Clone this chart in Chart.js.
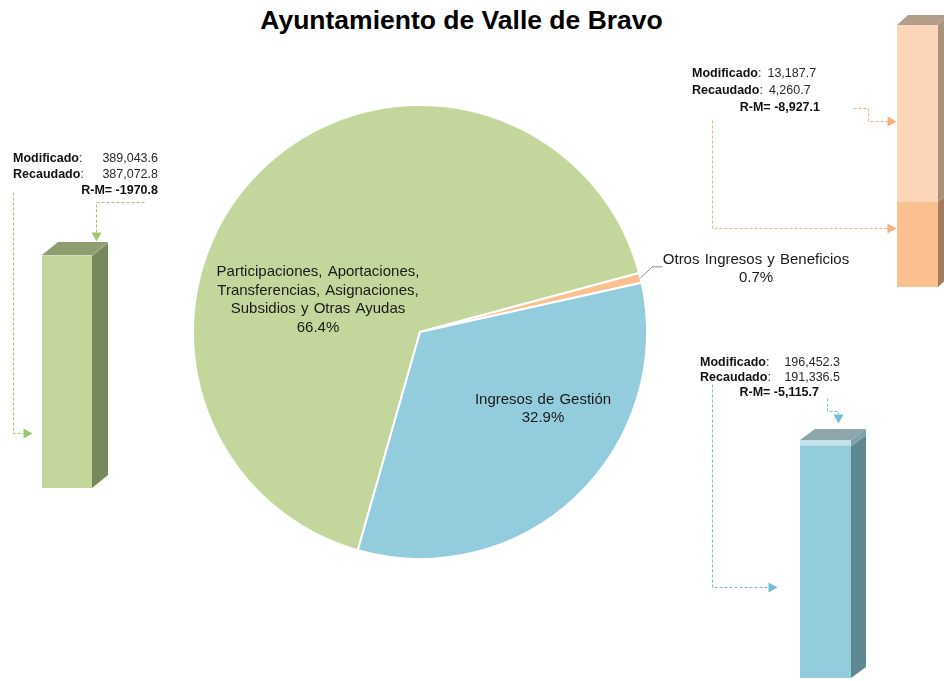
<!DOCTYPE html>
<html lang="es">
<head>
<meta charset="utf-8">
<title>Ayuntamiento de Valle de Bravo</title>
<script src="https://cdn.jsdelivr.net/npm/chart.js@4.4.1/dist/chart.umd.min.js"></script>
<style>
    html, body { margin: 0; padding: 0; background: #fff; }
    body { width: 944px; height: 681px; position: relative; overflow: hidden; font-family: "Liberation Sans", Arial, sans-serif; }
    canvas { position: absolute; }
    #title { position: absolute; left: 0; top: 5px; width: 923px; text-align: center; font-size: 26.5px; line-height: 30px; font-weight: bold; color: #000; }
    .note { position: absolute; font-size: 12.5px; line-height: 16px; color: #2a2a2a; white-space: nowrap; }
    .note b { color: #111; }
    .note .row { display: flex; justify-content: space-between; }
    .note.left .row { justify-content: flex-start; gap: 6px; }
    .note .rm { text-align: right; }
</style>
</head>
<body>
<div id="title">Ayuntamiento de Valle de Bravo</div>
<canvas id="pieChart" width="944" height="681" style="left:0;top:0"></canvas>
<canvas id="barVerde" width="68" height="254" style="left:42px;top:236px"></canvas>
<canvas id="barNaranja" width="47" height="282" style="left:897px;top:10px"></canvas>
<canvas id="barAzul" width="69" height="257" style="left:800px;top:424px"></canvas>

<div class="note" id="noteVerde" style="left:13px;top:150px;width:145px"></div>
<div class="note left" id="noteNaranja" style="left:692px;top:65px;width:131px;line-height:17px"></div>
<div class="note" id="noteAzul" style="left:700px;top:355px;width:140px;line-height:15px"></div>

<script>
// ===== Data =====
const categories = [
    'Participaciones, Aportaciones, Transferencias, Asignaciones, Subsidios y Otras Ayudas',
    'Otros Ingresos y Beneficios',
    'Ingresos de Gestión'
];
const labelLines = [
    ['Participaciones, Aportaciones,', 'Transferencias, Asignaciones,', 'Subsidios y Otras Ayudas'],
    ['Otros Ingresos y Beneficios'],
    ['Ingresos de Gestión']
];
const shares = [66.4, 0.7, 32.9];               // % del recaudado
const modificado = [389043.6, 13187.7, 196452.3];
const recaudado = [387072.8, 4260.7, 191336.5];
const diferencia = ['-1970.8', '-8,927.1', '-5,115.7']; // R-M as printed

// ===== Colors =====
const colors = {
    pie: ['#C3D69B', '#FAC090', '#93CDDD'],
    verde: { front: ['#C3D69B', '#D5E3B5'], side: ['#77895A', '#86976A'], top: '#8E9E70' },
    naranja: { front: ['#FAC090', '#FCD6B6'], side: ['#A27C5E', '#A8917F'], top: '#B39D8B' },
    azul: { front: ['#93CDDD', '#C4E4EC'], side: ['#5E8891', '#7EA3AB'], top: '#8CA6AC' },
    text: '#1a1a1a'
};

const fmt = v => v.toLocaleString('en-US', { minimumFractionDigits: 1, maximumFractionDigits: 1 });

// ===== Label positions (relative to pie center) =====
const labelOffsets = [[-102, -32], [336, -63], [123, 77]];

// ===== Annotations (dashed connectors) =====
const connectors = [
    { color: '#9DC870', pts: [[13, 192], [13, 433], [32, 433]] },
    { color: '#9DC870', pts: [[144, 202], [96, 202], [96, 241]] },
    { color: '#F7B07A', pts: [[853, 108], [868, 108], [868, 121], [896, 121]] },
    { color: '#F7B07A', pts: [[712, 120], [712, 228], [896, 228]] },
    { color: '#6FC0D4', pts: [[712, 384], [712, 587], [777, 587]] },
    { color: '#6FC0D4', pts: [[827, 398], [827, 411], [838, 411], [838, 423]] }
];

// ===== Pie labels + connectors plugin =====
const pieDecor = {
    id: 'pieDecor',
    afterDatasetsDraw(chart) {
        const { ctx } = chart;
        const arc0 = chart.getDatasetMeta(0).data[0];
        const cx = arc0.x, cy = arc0.y;
        ctx.save();
        ctx.font = '15px "Liberation Sans", Arial, sans-serif';
        ctx.fillStyle = colors.text;
        ctx.textAlign = 'center';
        ctx.textBaseline = 'middle';
        if ('wordSpacing' in ctx) ctx.wordSpacing = '1px';
        labelLines.forEach((lines, i) => {
            const all = lines.concat([shares[i].toFixed(1) + '%']);
            const lh = 18.5;
            const x = cx + labelOffsets[i][0];
            const y0 = cy + labelOffsets[i][1] - (all.length - 1) * lh / 2;
            all.forEach((t, k) => ctx.fillText(t, x, y0 + k * lh));
        });

        // leader line for the small slice
        const small = chart.getDatasetMeta(0).data[1];
        const mid = (small.startAngle + small.endAngle) / 2;
        const ex = cx + Math.cos(mid) * small.outerRadius;
        const ey = cy + Math.sin(mid) * small.outerRadius;
        ctx.strokeStyle = '#8C8C8C';
        ctx.lineWidth = 1;
        ctx.beginPath();
        ctx.moveTo(ex, ey);
        ctx.lineTo(ex + 12, ey - 11);
        ctx.lineTo(ex + 22, ey - 11);
        ctx.stroke();
        ctx.restore();
    },
    afterDraw(chart) {
        const { ctx } = chart;
        ctx.save();
        connectors.forEach(c => {
            const pts = c.pts;
            const n = pts.length;
            const [tx, ty] = pts[n - 1];
            const [px, py] = pts[n - 2];
            const len = Math.hypot(tx - px, ty - py);
            const ux = (tx - px) / len, uy = (ty - py) / len;
            const head = 9, half = 5;
            ctx.strokeStyle = c.color;
            ctx.lineWidth = 1;
            ctx.setLineDash([3, 2]);
            ctx.beginPath();
            ctx.moveTo(pts[0][0] + 0.5, pts[0][1] + 0.5);
            for (let i = 1; i < n - 1; i++) ctx.lineTo(pts[i][0] + 0.5, pts[i][1] + 0.5);
            ctx.lineTo(tx - ux * head + 0.5, ty - uy * head + 0.5);
            ctx.stroke();
            ctx.setLineDash([]);
            ctx.fillStyle = c.color;
            ctx.beginPath();
            ctx.moveTo(tx + 0.5, ty + 0.5);
            ctx.lineTo(tx - ux * head - uy * half + 0.5, ty - uy * head + ux * half + 0.5);
            ctx.lineTo(tx - ux * head + uy * half + 0.5, ty - uy * head - ux * half + 0.5);
            ctx.closePath();
            ctx.fill();
        });
        ctx.restore();
    }
};

// ===== 3D box plugin for bars =====
const box3d = {
    id: 'box3d',
    afterDatasetsDraw(chart, args, opts) {
        const { ctx } = chart;
        const { dx, dy, side, top } = opts;
        const metas = chart.getSortedVisibleDatasetMetas();
        ctx.save();
        metas.forEach((meta, di) => {
            meta.data.forEach(bar => {
                const p = bar.getProps(['x', 'y', 'base', 'width'], true);
                const left = p.x - p.width / 2, right = p.x + p.width / 2;
                const yTop = Math.min(p.y, p.base), yBot = Math.max(p.y, p.base);
                ctx.fillStyle = side[di];
                ctx.beginPath();
                ctx.moveTo(right, yBot);
                ctx.lineTo(right + dx, yBot - dy);
                ctx.lineTo(right + dx, yTop - dy);
                ctx.lineTo(right, yTop);
                ctx.closePath();
                ctx.fill();
                if (di === metas.length - 1) {
                    ctx.fillStyle = top;
                    ctx.beginPath();
                    ctx.moveTo(left, yTop);
                    ctx.lineTo(left + dx, yTop - dy);
                    ctx.lineTo(right + dx, yTop - dy);
                    ctx.lineTo(right, yTop);
                    ctx.closePath();
                    ctx.fill();
                }
            });
        });
        ctx.restore();
    }
};

// ===== Pie =====
function initPie() {
    new Chart(document.getElementById('pieChart'), {
        type: 'pie',
        data: {
            labels: categories,
            datasets: [{
                data: shares,
                backgroundColor: colors.pie,
                borderColor: '#ffffff',
                borderWidth: 2
            }]
        },
        options: {
            responsive: false,
            animation: false,
            events: [],
            rotation: 195.9,
            layout: { padding: { left: 192, right: 296, top: 104, bottom: 121 } },
            plugins: { legend: { display: false }, tooltip: { enabled: false }, title: { display: false } }
        },
        plugins: [pieDecor]
    });
}

// ===== 3D bars (Modificado vs Recaudado) =====
function initBar(id, i, pal, depth, padding) {
    new Chart(document.getElementById(id), {
        type: 'bar',
        data: {
            labels: [categories[i]],
            datasets: [
                { label: 'Recaudado', data: [recaudado[i]], backgroundColor: pal.front[0] },
                { label: 'Modificado', data: [modificado[i] - recaudado[i]], backgroundColor: pal.front[1] }
            ]
        },
        options: {
            responsive: false,
            animation: false,
            events: [],
            layout: { padding },
            datasets: { bar: { barPercentage: 1, categoryPercentage: 1, borderWidth: 0 } },
            scales: {
                x: { display: false, stacked: true },
                y: { display: false, stacked: true, min: 0, max: modificado[i] }
            },
            plugins: {
                legend: { display: false },
                tooltip: { enabled: false },
                box3d: { dx: depth[0], dy: depth[1], side: pal.side, top: pal.top }
            }
        },
        plugins: [box3d]
    });
}

// ===== Notes =====
function fillNote(id, i, rmPad) {
    const el = document.getElementById(id);
    el.innerHTML =
        `<div class="row"><span><b>Modificado</b>:</span><span>${fmt(modificado[i])}</span></div>` +
        `<div class="row"><span><b>Recaudado</b>:</span><span>${fmt(recaudado[i])}</span></div>` +
        `<div class="rm" style="padding-right:${rmPad}px"><b>R-M= ${diferencia[i]}</b></div>`;
}

initPie();
initBar('barVerde', 0, colors.verde, [16, 13], { left: 0, right: 18, top: 19, bottom: 2 });
initBar('barNaranja', 1, colors.naranja, [11, 10], { left: 0, right: 6, top: 15, bottom: 5 });
initBar('barAzul', 2, colors.azul, [15, 11], { left: 0, right: 18, top: 16, bottom: 3 });
fillNote('noteVerde', 0, 0);
fillNote('noteNaranja', 1, 3);
fillNote('noteAzul', 2, 21);
</script>
</body>
</html>
